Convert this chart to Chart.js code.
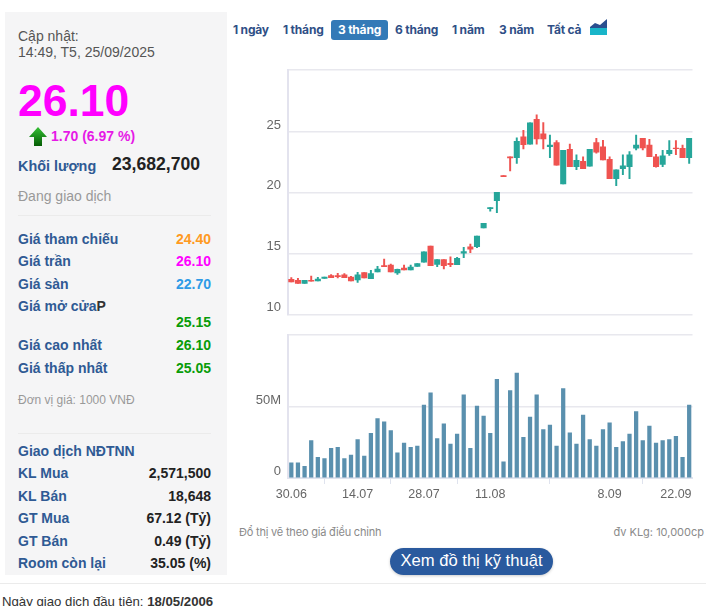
<!DOCTYPE html>
<html lang="vi">
<head>
<meta charset="utf-8">
<title>Đồ thị giá</title>
<script src="https://cdn.jsdelivr.net/npm/chart.js@4"></script>
<style>
html, body { margin: 0; padding: 0; background: #fff; overflow: hidden; }
body { width: 714px; height: 606px; position: relative; font-family: "Liberation Sans", Arial, sans-serif; }
.t { position: absolute; white-space: nowrap; }
.lbl { left: 18px; font-size: 14px; font-weight: bold; color: #2f5a94; }
.val { right: 503px; font-size: 14px; font-weight: bold; }
.dark { color: #222; }
#panel { position: absolute; left: 5px; top: 12px; width: 222px; height: 563px; background: #f5f5f6; }
.rule { position: absolute; left: 18px; width: 193px; height: 1px; background: #ebebeb; }
.tab { position: absolute; top: 20px; height: 20px; font: 700 12px/19px Inter, sans-serif; color: #2f4f86; letter-spacing: -0.2px; white-space: nowrap; }
canvas { position: absolute; left: 230px; }
</style>
</head>
<body>
<div id="panel"></div>
<div class="t" style="left:18px;top:28px;font-size:14px;line-height:16px;color:#555">Cập nhật:<br>14:49, T5, 25/09/2025</div>
<div class="t" style="left:18px;top:75px;font-size:44.5px;line-height:52px;font-weight:bold;color:#ff00ff">26.10</div>
<svg style="position:absolute;left:28px;top:126px" width="20" height="21" viewBox="0 0 20 21"><defs><linearGradient id="g" x1="0" y1="0" x2="0" y2="1"><stop offset="0" stop-color="#35c035"/><stop offset="1" stop-color="#045c04"/></linearGradient></defs><path d="M10 1 L19 11 H14 V20 H6 V11 H1 Z" fill="url(#g)"/></svg>
<div class="t" style="left:51px;top:128px;font-size:14px;font-weight:bold;color:#e619e6">1.70 (6.97 %)</div>
<div class="t lbl" style="top:158px;font-size:14.4px">Khối lượng</div>
<div class="t" style="left:112px;top:154px;font-size:17.6px;font-weight:bold;color:#222">23,682,700</div>
<div class="t" style="left:18px;top:188px;font-size:14px;color:#999">Đang giao dịch</div>
<div class="rule" style="top:215px"></div>
<div class="t lbl" style="top:231px">Giá tham chiếu</div><div class="t val" style="top:231px;color:#ff9a1f">24.40</div>
<div class="t lbl" style="top:253px">Giá trần</div><div class="t val" style="top:253px;color:#ff00ff">26.10</div>
<div class="t lbl" style="top:276px">Giá sàn</div><div class="t val" style="top:276px;color:#2e9be6">22.70</div>
<div class="t lbl" style="top:298px">Giá mở cửa<span class="dark" style="color:#333">P</span></div>
<div class="t val" style="top:314px;color:#089c08">25.15</div>
<div class="t lbl" style="top:337px">Giá cao nhất</div><div class="t val" style="top:337px;color:#089c08">26.10</div>
<div class="t lbl" style="top:360px">Giá thấp nhất</div><div class="t val" style="top:360px;color:#089c08">25.05</div>
<div class="t" style="left:18px;top:393px;font-size:12px;color:#999">Đơn vị giá: 1000 VNĐ</div>
<div class="rule" style="top:433px"></div>
<div class="t lbl" style="top:443px">Giao dịch NĐTNN</div>
<div class="t lbl" style="top:465px">KL Mua</div><div class="t val dark" style="top:465px">2,571,500</div>
<div class="t lbl" style="top:488px">KL Bán</div><div class="t val dark" style="top:488px">18,648</div>
<div class="t lbl" style="top:510px">GT Mua</div><div class="t val dark" style="top:510px">67.12 (Tỷ)</div>
<div class="t lbl" style="top:533px">GT Bán</div><div class="t val dark" style="top:533px">0.49 (Tỷ)</div>
<div class="t lbl" style="top:555px">Room còn lại</div><div class="t val dark" style="top:555px">35.05 (%)</div>
<div class="tab" style="left:233px">1 ngày</div>
<div class="tab" style="left:283px">1 tháng</div>
<div class="tab" style="left:331px;width:57px;text-align:center;background:#337ab7;color:#fff;border-radius:3px">3 tháng</div>
<div class="tab" style="left:395px">6 tháng</div>
<div class="tab" style="left:452px">1 năm</div>
<div class="tab" style="left:499px">3 năm</div>
<div class="tab" style="left:547px">Tất cả</div>
<svg style="position:absolute;left:590px;top:18px" width="18" height="18" viewBox="0 0 18 18"><path d="M0 9 L5 5 L10 7 L17 1 V10 H0 Z" fill="#2a4f8f"/><path d="M0 10 H17 V17 H0 Z" fill="#19b5c9"/></svg>
<canvas id="price" width="476" height="257" style="top:60px"></canvas>
<canvas id="volume" width="476" height="180" style="top:325px"></canvas>
<div class="t" style="left:239px;top:525px;font:11px Inter,sans-serif;letter-spacing:-0.2px;color:#8a8a8a">Đổ thị vẽ theo giá điều chỉnh</div>
<div class="t" style="right:10px;top:525px;font:11px Inter,sans-serif;color:#8a8a8a">đv KLg: 10,000cp</div>
<div class="t" style="left:390px;top:548px;width:163px;height:27px;line-height:26px;text-align:center;border-radius:14px;background:#2a5a9e;color:#fff;font-size:16.6px;box-shadow:0 1px 3px rgba(0,0,0,.2)">Xem đồ thị kỹ thuật</div>
<div class="rule" style="left:0;top:583px;width:706px"></div>
<div class="t" style="left:2px;top:594px;font-size:13.2px;color:#333">Ngày giao dịch đầu tiên: <b>18/05/2006</b></div>
<script>
var days = ['30.06','1.07','2.07','3.07','4.07','7.07','8.07','9.07','10.07','11.07',
  '14.07','15.07','16.07','17.07','18.07','21.07','22.07','23.07','24.07','25.07',
  '28.07','29.07','30.07','31.07','1.08','4.08','5.08','6.08','7.08','8.08',
  '11.08','12.08','13.08','14.08','15.08','18.08','19.08','20.08','21.08','22.08',
  '25.08','26.08','27.08','28.08','29.08','3.09','4.09','5.09','8.09','9.09',
  '10.09','11.09','12.09','15.09','16.09','17.09','18.09','19.09','22.09','23.09','24.09'];
var opens = [12.89,12.81,12.56,12.81,12.75,12.97,13.19,13.19,13.25,13.08,
  12.84,13.44,12.95,13.49,14.01,14.07,13.41,13.82,13.66,13.96,
  14.29,15.63,14.12,14.51,14.21,14.10,15.03,15.55,15.58,17.11,
  18.70,19.36,21.41,22.95,22.89,24.59,23.99,26.04,24.84,23.79,
  24.12,20.73,23.58,22.15,22.59,22.18,24.12,23.77,22.75,21.16,
  21.99,22.15,23.66,24.48,23.93,22.95,22.34,23.22,23.68,23.66,22.89];
var highs = [13.03,12.97,12.81,13.16,13.05,13.08,13.27,13.38,13.36,13.14,
  13.47,13.44,13.63,13.96,14.56,14.15,13.74,14.07,14.07,14.18,
  15.14,15.63,14.51,14.51,14.73,14.70,15.52,15.79,16.45,17.49,
  18.78,20.04,21.41,22.95,24.51,25.14,25.74,26.40,25.77,24.75,
  24.29,23.49,24.01,23.11,22.95,23.58,24.48,24.32,22.95,21.88,
  23.11,23.38,24.75,24.48,24.40,23.16,23.49,24.29,24.29,23.93,24.48];
var lows = [12.67,12.56,12.56,12.73,12.75,12.97,13.03,13.00,13.03,12.75,
  12.64,13.00,12.95,13.49,13.93,13.49,13.30,13.66,13.66,13.96,
  14.29,14.01,13.93,13.74,13.93,14.10,14.67,15.08,15.49,17.11,
  18.48,18.37,21.33,21.79,22.42,23.60,23.99,23.99,23.60,22.89,
  22.26,20.73,22.15,21.90,21.99,22.18,23.25,22.70,21.16,20.59,
  21.49,21.16,23.52,23.52,22.97,22.10,22.15,23.08,23.14,22.89,22.42];
var closes = [12.67,12.56,12.81,12.73,12.92,13.08,13.03,13.11,13.03,12.75,
  13.25,13.00,13.36,13.74,13.93,13.49,13.71,13.66,13.90,14.18,
  15.14,14.01,14.51,14.01,14.10,14.62,15.16,15.36,16.45,17.49,
  18.78,20.04,21.33,22.86,24.23,23.96,25.74,24.42,24.42,23.93,
  22.26,23.49,22.15,22.67,21.99,23.58,23.33,22.70,21.16,21.88,
  22.21,23.11,23.93,23.68,22.97,22.15,23.03,23.49,23.63,22.89,24.48];
var volumes = [10.7,10.7,8.3,26.3,14.5,13.7,20.9,21.6,13.7,16.1,
  27,15.4,31.5,41.9,39.6,33.4,17.8,24.6,21.6,22.5,
  51.4,60,27.7,38.2,23.9,31,58.5,20.9,50.7,43.6,
  31.5,69.4,11.4,61.6,73.9,28.7,42.9,58.5,34.1,37.2,
  22.5,63,31.8,23.9,44.3,27,22.5,34.1,38.9,21.6,
  25.6,31,46.7,26.3,36.5,24.6,26.3,27,29.4,14.5,51.4];
var dayTicks = ['30.06','14.07','28.07','11.08','8.09','22.09'];
var priceTicks = [10,15,20,25,30.13];
var volumeTicks = [0,50,101];

var UP = '#26a69a', DOWN = '#ef5350', GRID = '#e8e8ee';
var candleColors = closes.map(function (c, i) { return c >= opens[i] ? UP : DOWN; });

function yAxis(min, max, values, fmt) {
  return {
    min: min, max: max,
    afterBuildTicks: function (s) { s.ticks = values.map(function (v) { return { value: v }; }); },
    // fixed gutter, and no extra padding for the first and last labels
    afterFit: function (s) { s.width = 58; s.paddingTop = 0; s.paddingBottom = 0; },
    border: { color: '#e3e3ee', width: 2 },
    grid: { color: GRID, lineWidth: 1.5, drawTicks: false },
    ticks: { padding: 7, labelOffset: -7, color: '#666', font: { family: 'Liberation Sans', size: 13 }, callback: fmt }
  };
}
var common = { responsive: false, animation: false, plugins: { legend: { display: false }, tooltip: { enabled: false } } };

new Chart(document.getElementById('price'), {
  type: 'bar',
  data: {
    labels: days,
    datasets: [
      { data: opens.map(function (o, i) { return [o, closes[i]]; }), backgroundColor: candleColors, barThickness: 5.4, grouped: false },
      { data: lows.map(function (l, i) { return [l, highs[i]]; }), backgroundColor: candleColors, barThickness: 1.3, grouped: false }
    ]
  },
  options: Object.assign({}, common, {
    layout: { padding: { top: 9.5, right: 13.5, bottom: 2.5 } },
    scales: {
      x: { display: false },
      y: yAxis(10, 30.13, priceTicks, function (v) { return v > 30 ? '' : v; })
    }
  })
});

new Chart(document.getElementById('volume'), {
  type: 'bar',
  data: {
    labels: days,
    datasets: [{ data: volumes, backgroundColor: '#5a90ae', barThickness: 3.6 }]
  },
  options: Object.assign({}, common, {
    layout: { padding: { top: 9.5, right: 13.5 } },
    scales: {
      x: {
        afterBuildTicks: function (s) { s.ticks = s.ticks.filter(function (t) { return dayTicks.indexOf(days[t.value]) >= 0; }); },
        border: { color: '#dfe3ee', width: 2 },
        grid: { drawOnChartArea: false, color: '#dfe3ee', tickLength: 6 },
        ticks: { autoSkip: false, maxRotation: 0, color: '#666', padding: 3, font: { family: 'Liberation Sans', size: 12.5 } }
      },
      y: yAxis(0, 101, volumeTicks, function (v) { return v > 100 ? '' : v === 0 ? '0' : v + 'M'; })
    }
  })
});
</script>
</body>
</html>
